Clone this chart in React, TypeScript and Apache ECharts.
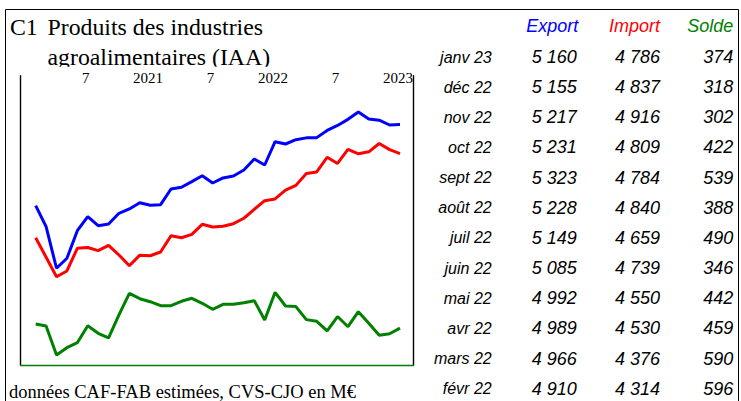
import React, { useEffect, useRef } from "react";
import * as echarts from "echarts";

// Monthly series, Feb 2020 .. Jan 2023 (36 months), M€
const exportData = [
  4114, 3843, 3307, 3436, 3792, 3972, 3856, 3878, 4016, 4072, 4153, 4119,
  4127, 4330, 4352, 4424, 4501, 4407, 4472, 4497, 4575, 4717, 4639, 4940,
  4910, 4966, 4989, 4992, 5085, 5149, 5228, 5323, 5231, 5217, 5155, 5160,
];
const importData = [
  3701, 3449, 3198, 3272, 3565, 3575, 3534, 3603, 3478, 3339, 3476, 3468,
  3517, 3727, 3701, 3745, 3874, 3839, 3849, 3882, 3952, 4068, 4179, 4201,
  4314, 4376, 4530, 4550, 4739, 4659, 4840, 4784, 4809, 4916, 4837, 4786,
];
const soldeData = [
  415, 395, 104, 178, 228, 398, 322, 275, 506, 723, 669, 639,
  599, 599, 643, 673, 623, 563, 613, 613, 629, 649, 456, 733,
  596, 590, 459, 442, 346, 490, 388, 539, 422, 302, 318, 374,
];

// Table (most recent first)
const tableMonths = [
  "janv 23", "déc 22", "nov 22", "oct 22", "sept 22", "août 22",
  "juil 22", "juin 22", "mai 22", "avr 22", "mars 22", "févr 22",
];
const tableHeaders = ["Export", "Import", "Solde"];

// Top axis tick labels (month index in series)
const tickMonths = [5, 11, 17, 23, 29, 35];
const tickLabels = ["7", "2021", "7", "2022", "7", "2023"];

const BLUE = "#0000ff";
const RED = "#ff0000";
const GREEN = "#008000";
const SANS = '"Liberation Sans", Arial, sans-serif';
const SERIF = '"Liberation Serif", "Times New Roman", serif';

const fmt = (v: number) =>
  v >= 1000 ? `${Math.floor(v / 1000)} ${String(v % 1000).padStart(3, "0")}` : String(v);

function txt(text: string, x: number, y: number, opts: any) {
  const align = opts.align || "left";
  return {
    type: "text",
    x,
    y,
    silent: true,
    z: opts.z || 10,
    style: {
      text,
      fill: opts.color || "#000",
      fontFamily: opts.family,
      fontSize: opts.size,
      fontStyle: opts.italic ? "italic" : "normal",
      align,
      textAlign: align,
      verticalAlign: "middle",
      textVerticalAlign: "middle",
    },
  };
}

export default function App() {
  const ref = useRef<HTMLDivElement>(null);

  useEffect(() => {
    document.body.style.margin = "0";
    if (!ref.current) return;
    const chart = echarts.init(ref.current, null, { renderer: "svg" });

    const n = exportData.length;
    const tblExport = exportData.slice(n - 12).reverse();
    const tblImport = importData.slice(n - 12).reverse();
    const tblSolde = soldeData.slice(n - 12).reverse();

    const rowY = (i: number) => 57 + i * 30.15;
    const colRight = [576.7, 660, 733.3];
    const headerColors = [BLUE, RED, GREEN];

    const graphics: any[] = [
      {
        type: "rect",
        silent: true,
        z: 1,
        shape: { x: 5.5, y: 9.5, width: 733, height: 420 },
        style: { fill: "none", stroke: "#000", lineWidth: 1 },
      },
      txt("C1", 10, 27.1, { family: SERIF, size: 23.8 }),
      txt("Produits des industries", 47.5, 27.1, { family: SERIF, size: 23.8 }),
      txt("agroalimentaires (IAA)", 47.5, 57.1, { family: SERIF, size: 23.8 }),
      {
        type: "rect",
        silent: true,
        z: 20,
        shape: { x: 40, y: 66.8, width: 380, height: 5.2 },
        style: { fill: "#fff", stroke: "none" },
      },
      txt("données CAF-FAB estimées, CVS-CJO en M€", 9, 391.5, { family: SERIF, size: 18.5 }),
    ];
    tableHeaders.forEach((h, k) => {
      graphics.push(
        txt(h, colRight[k] + (k === 0 ? 1.5 : 0), 26, {
          family: SANS,
          size: 18,
          italic: true,
          align: "right",
          color: headerColors[k],
        })
      );
    });
    tableMonths.forEach((m, i) => {
      const y = rowY(i);
      graphics.push(txt(m, 491.7, y, { family: SANS, size: 16, italic: true, align: "right" }));
      [tblExport[i], tblImport[i], tblSolde[i]].forEach((v, k) => {
        graphics.push(
          txt(fmt(v), colRight[k], y, { family: SANS, size: 18, italic: true, align: "right" })
        );
      });
    });

    const xMin = -1.441;
    const xMax = 36.296;
    const tickShift = -0.2;

    chart.setOption({
      animation: false,
      backgroundColor: "#fff",
      grid: { left: 20.7, right: 741 - 413.5, top: 75.7, bottom: 401 - 365, containLabel: false },
      xAxis: [
        {
          type: "value",
          position: "bottom",
          min: xMin,
          max: xMax,
          axisLine: { show: true, onZero: false, lineStyle: { color: GREEN, width: 1.4 } },
          axisTick: { show: false },
          axisLabel: { show: false },
          splitLine: { show: false },
        },
        {
          type: "value",
          position: "top",
          min: xMin,
          max: xMax,
          axisLine: { show: false, onZero: false },
          axisTick: { show: false },
          splitLine: { show: false },
          axisLabel: {
            show: true,
            customValues: tickMonths.map((m) => m + tickShift),
            formatter: (v: number) => {
              const k = tickMonths.findIndex((m) => Math.abs(m + tickShift - v) < 0.01);
              return k >= 0 ? tickLabels[k] : "";
            },
            fontFamily: SERIF,
            fontSize: 15,
            color: "#000",
            margin: -2.3,
            verticalAlign: "middle",
          },
        },
      ],
      yAxis: [
        {
          type: "value",
          min: 2059,
          max: 5791,
          position: "left",
          axisLine: { show: true, onZero: false, lineStyle: { color: "#000", width: 1.4 } },
          axisTick: { show: false },
          axisLabel: { show: false },
          splitLine: { show: false },
        },
        {
          type: "value",
          min: 4,
          max: 2906,
          position: "right",
          axisLine: { show: true, onZero: false, lineStyle: { color: "#000", width: 1.4 } },
          axisTick: { show: false },
          axisLabel: { show: false },
          splitLine: { show: false },
        },
      ],
      series: [
        {
          name: "Export",
          type: "line",
          xAxisIndex: 0,
          yAxisIndex: 0,
          symbol: "none",
          data: exportData.map((v, i) => [i, v]),
          lineStyle: { color: BLUE, width: 3 },
          itemStyle: { color: BLUE },
        },
        {
          name: "Import",
          type: "line",
          xAxisIndex: 0,
          yAxisIndex: 0,
          symbol: "none",
          data: importData.map((v, i) => [i, v]),
          lineStyle: { color: RED, width: 3 },
          itemStyle: { color: RED },
        },
        {
          name: "Solde",
          type: "line",
          xAxisIndex: 0,
          yAxisIndex: 1,
          symbol: "none",
          data: soldeData.map((v, i) => [i, v]),
          lineStyle: { color: GREEN, width: 3 },
          itemStyle: { color: GREEN },
        },
      ],
      graphic: graphics,
    });

    return () => chart.dispose();
  }, []);

  return <div ref={ref} style={{ width: 741, height: 401 }} />;
}
